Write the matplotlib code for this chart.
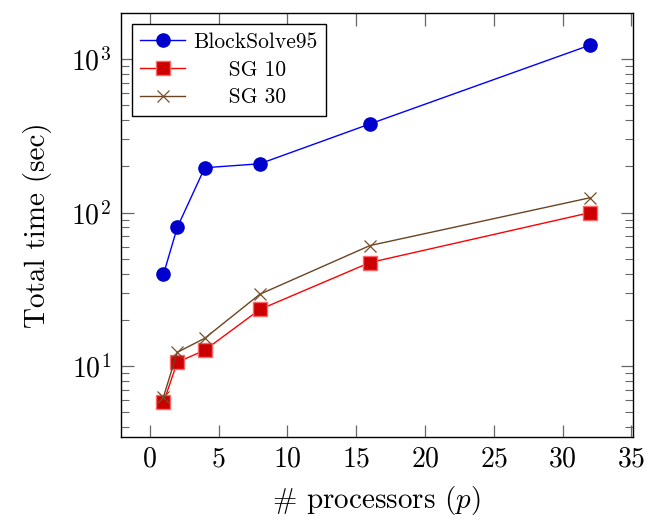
import matplotlib
matplotlib.use("Agg")
import matplotlib.pyplot as plt
from matplotlib.ticker import LogLocator, NullFormatter

plt.rcParams["font.family"] = ["cmr10", "DejaVu Serif"]
plt.rcParams["mathtext.fontset"] = "cm"
plt.rcParams["axes.formatter.use_mathtext"] = True

procs = [1, 2, 4, 8, 16, 32]
blocksolve = [39.6, 80, 196, 208, 378, 1233]
sg10 = [5.8, 10.6, 12.7, 23.4, 47.3, 100]
sg30 = [6.3, 12.3, 15.2, 29.4, 61, 125]
labels = ["BlockSolve95", "SG 10", "SG 30"]

fig = plt.figure(figsize=(6.53, 5.2), dpi=100)
ax = fig.add_axes([0.185, 0.160, 0.784, 0.815])

ax.plot(procs, blocksolve, color="blue", lw=1.0, marker="o", ms=9.5,
        mfc="#0000cc", mec="#0000cc", label=labels[0])
ax.plot(procs, sg10, color="red", lw=1.0, marker="s", ms=9.5,
        mfc="#cc0000", mec="#ff6666", mew=1.0, label="     " + labels[1])
ax.plot(procs, sg30, color="#6b4423", lw=1.0, marker="x", ms=8,
        mec="#7a4f2a", mew=0.9, label="     " + labels[2])

ax.set_yscale("log")
ax.set_xlim(-2.1, 35.1)
ax.set_ylim(10 ** 0.54, 10 ** 3.30)
ax.set_xticks([0, 5, 10, 15, 20, 25, 30, 35])
ax.yaxis.set_major_locator(LogLocator(base=10))
ax.yaxis.set_minor_locator(LogLocator(base=10, subs=range(2, 10)))
ax.yaxis.set_minor_formatter(NullFormatter())

ax.tick_params(which="both", direction="in", top=True, right=True,
               color="#666666", labelsize=20, pad=7)
ax.tick_params(which="major", length=9, width=0.9)
ax.tick_params(which="minor", length=6, width=0.8)
for s in ax.spines.values():
    s.set_linewidth(1.0)

ax.set_xlabel("# processors ($p$)", fontsize=21, labelpad=8)
ax.set_ylabel("Total time (sec)", fontsize=21, labelpad=14)

leg = ax.legend(loc="upper left", fontsize=15.5, frameon=True, fancybox=False,
                edgecolor="black", framealpha=1, handlelength=2.1,
                handletextpad=0.35, borderpad=0.4, labelspacing=0.38,
                borderaxespad=0.5)
leg.get_frame().set_linewidth(1.0)

fig.savefig("out.png", dpi=100)
